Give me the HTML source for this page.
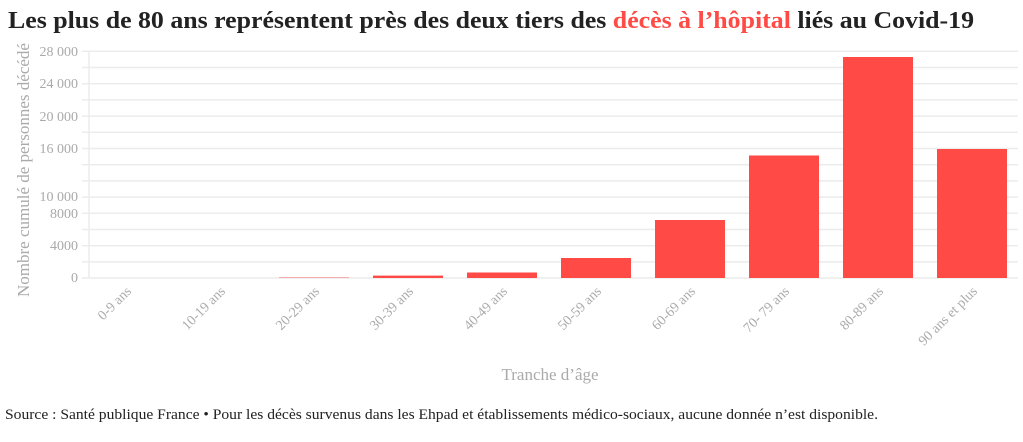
<!DOCTYPE html>
<html><head><meta charset="utf-8"><style>
body{margin:0;width:1023px;height:437px;background:#fff;overflow:hidden;font-family:"Liberation Serif",serif}
</style></head><body>
<svg width="1023" height="437" xmlns="http://www.w3.org/2000/svg" font-family="Liberation Serif, serif">
<text x="8" y="28" font-size="24" font-weight="bold" fill="#222" textLength="966" lengthAdjust="spacingAndGlyphs">Les plus de 80 ans représentent près des deux tiers des <tspan fill="#ff4a45">décès à l’hôpital</tspan> liés au Covid-19</text>
<g stroke="#ececec" stroke-width="1.5">
<line x1="82" x2="1018" y1="51.3" y2="51.3"/><line x1="82" x2="1018" y1="67.5" y2="67.5"/>
<line x1="82" x2="1018" y1="83.7" y2="83.7"/><line x1="82" x2="1018" y1="99.9" y2="99.9"/>
<line x1="82" x2="1018" y1="116.1" y2="116.1"/><line x1="82" x2="1018" y1="132.3" y2="132.3"/>
<line x1="82" x2="1018" y1="148.5" y2="148.5"/><line x1="82" x2="1018" y1="164.7" y2="164.7"/>
<line x1="82" x2="1018" y1="180.9" y2="180.9"/><line x1="82" x2="1018" y1="197.1" y2="197.1"/>
<line x1="82" x2="1018" y1="213.3" y2="213.3"/><line x1="82" x2="1018" y1="229.5" y2="229.5"/>
<line x1="82" x2="1018" y1="245.7" y2="245.7"/><line x1="82" x2="1018" y1="261.9" y2="261.9"/>
<line x1="82" x2="1018" y1="278" y2="278"/>
<line x1="89" x2="89" y1="51" y2="278"/>
</g>
<g font-size="14" fill="#aaa" text-anchor="end">
<text x="78" y="56">28 000</text><text x="78" y="88">24 000</text><text x="78" y="121">20 000</text>
<text x="78" y="153">16 000</text><text x="78" y="201">10 000</text><text x="78" y="218">8000</text>
<text x="78" y="250">4000</text><text x="78" y="282">0</text>
</g>
<text transform="translate(29,170) rotate(-90)" font-size="17" fill="#aaa" text-anchor="middle">Nombre cumulé de personnes décédé</text>
<g fill="#ff4a45">
<rect x="279" y="277.2" width="70" height="0.8" opacity="0.5"/>
<rect x="373" y="275.6" width="70" height="2.4"/>
<rect x="467" y="272.5" width="70" height="5.5"/>
<rect x="561" y="258" width="70" height="20"/>
<rect x="655" y="220" width="70" height="58"/>
<rect x="749" y="155.5" width="70" height="122.5"/>
<rect x="843" y="57" width="70" height="221"/>
<rect x="937" y="149" width="70" height="129"/>
</g>
<g font-size="14" fill="#aaa" text-anchor="end">
<text transform="translate(132,292) rotate(-45)">0-9 ans</text>
<text transform="translate(226,292) rotate(-45)">10-19 ans</text>
<text transform="translate(320,292) rotate(-45)">20-29 ans</text>
<text transform="translate(414,292) rotate(-45)">30-39 ans</text>
<text transform="translate(508,292) rotate(-45)">40-49 ans</text>
<text transform="translate(602,292) rotate(-45)">50-59 ans</text>
<text transform="translate(696,292) rotate(-45)">60-69 ans</text>
<text transform="translate(790,292) rotate(-45)">70- 79 ans</text>
<text transform="translate(884,292) rotate(-45)">80-89 ans</text>
<text transform="translate(978,292) rotate(-45)">90 ans et plus</text>
</g>
<text x="550" y="380" font-size="17" fill="#aaa" text-anchor="middle">Tranche d’âge</text>
<text x="5" y="419" font-size="15" fill="#222" textLength="873" lengthAdjust="spacingAndGlyphs">Source : Santé publique France • Pour les décès survenus dans les Ehpad et établissements médico-sociaux, aucune donnée n’est disponible.</text>
</svg>
</body></html>
